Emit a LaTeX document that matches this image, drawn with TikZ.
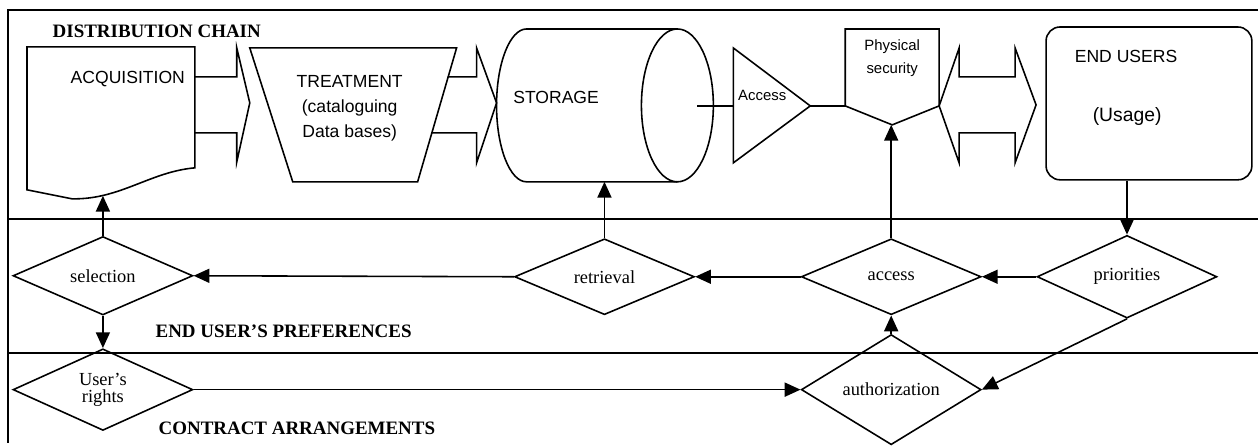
\documentclass[tikz,border=0pt]{standalone}
\usepackage{fontspec}
\setmainfont{Liberation Serif}
\setsansfont{Liberation Sans}
\usetikzlibrary{shapes.geometric, arrows.meta, positioning}

\begin{document}
\begin{tikzpicture}[
    x=0.02cm, y=0.02cm,
    line width=0.9pt,
    frame/.style={line width=1.3pt},
    choice/.style={diamond, draw, minimum width=3.6cm, minimum height=1.52cm, inner sep=0pt, align=center, font=\fontsize{10.5}{10}\selectfont},
    arrow/.style={-{Triangle[length=9pt,width=8pt]}},
    lanetitle/.style={anchor=west, inner sep=0pt, font=\bfseries\fontsize{10.8}{12}\selectfont},
    chaintext/.style={inner sep=0pt, align=center, font=\sffamily\fontsize{10}{14.2}\selectfont},
    smalltext/.style={inner sep=0pt, align=center, font=\sffamily\fontsize{8.5}{13}\selectfont}
  ]
    \path[fill=white] (0,0) rectangle (1259,-443);
    \draw[frame] (8,-443) -- (8,-10) -- (1259,-10);
    \draw[frame] (8,-219) -- (1259,-219);
    \draw[frame] (8,-353) -- (1259,-353);

    \node[lanetitle] (chaintitle) at (52,-31) {DISTRIBUTION CHAIN};
    \node[lanetitle] (preftitle) at (155,-332) {END USER'S PREFERENCES};
    \node[lanetitle] (contracttitle) at (158,-429) {CONTRACT ARRANGEMENTS};

    % distribution chain
    \draw (27,-47) -- (195,-47) -- (195,-168) .. controls (150,-172) and (120,-200) .. (72,-199) -- (27,-190) -- cycle;
    \node[chaintext, anchor=west] (acq) at (70,-79) {ACQUISITION};
    \coordinate (acqbot) at (103,-196);

    \draw (195,-77) -- (237,-77) -- (237,-48) -- (250,-103) -- (237,-162) -- (237,-133) -- (195,-133);

    \draw (250,-48) -- (457,-48) -- (418,-182) -- (293,-182) -- cycle;
    \node[chaintext] (treat) at (350,-108) {TREATMENT\\(cataloguing\\Data bases)};

    \draw (448,-77) -- (477,-77) -- (477,-48) -- (497,-103) -- (477,-163) -- (477,-133) -- (432,-133);

    \draw (678,-29) -- (527,-29) arc[start angle=90, end angle=270, x radius=30, y radius=76.5] -- (678,-182);
    \draw (678,-105.5) ellipse [x radius=36, y radius=76.5];
    \node[chaintext, anchor=west] (stor) at (513,-98) {STORAGE};
    \coordinate (storbot) at (605,-182);

    \coordinate (cylout) at (698,-106);
    \coordinate (accin) at (734,-106);
    \coordinate (accout) at (811,-106);
    \coordinate (physin) at (846,-106);
    \coordinate (physbot) at (893,-125);
    \draw (734,-48) -- (accout) -- (734,-163) -- cycle;
    \node[smalltext, anchor=west] (acctxt) at (738,-96) {Access};
    \draw (cylout) -- (accin);
    \draw (accout) -- (physin);

    \draw (846,-29) -- (940,-29) -- (940,-106) -- (physbot) -- (physin) -- cycle;
    \node[smalltext] (phys) at (893,-58) {Physical\\security};

    \draw (940,-106) -- (960,-48) -- (960,-77) -- (1016,-77) -- (1016,-48) -- (1037,-105) -- (1016,-163) -- (1016,-133) -- (960,-133) -- (960,-163) -- cycle;

    \node[draw, rounded corners=0.28cm, minimum width=4.12cm, minimum height=3.06cm, inner sep=0pt] (users) at (1150,-103.5) {};
    \node[chaintext, anchor=west] (userstxt) at (1075,-57) {END USERS};
    \node[chaintext, anchor=west, font=\sffamily\fontsize{11}{13}\selectfont] (usage) at (1093,-117) {(Usage)};

    % preferences and contract
    \node[choice] (sel) at (103,-276) {selection};
    \node[choice] (retr) at (605,-277) {retrieval};
    \node[choice] (acc) at (892,-277) {access};
    \node[choice] (prio) at (1128,-277) {priorities};
    \node[choice] (rights) at (103,-390) {User's\\rights};
    \node[choice] (auth) at (892,-390) {authorization};

    \draw[arrow] (sel.north) -- (acqbot);
    \draw[arrow] (retr.north) -- (retr.north |- storbot);
    \draw[arrow] (acc.north) -- (acc.north |- physbot);
    \draw[arrow] (prio.north |- users.south) -- (prio.north);
    \draw[arrow] (retr.west) -- (sel.east);
    \draw[arrow] (acc.west) -- (retr.east);
    \draw[arrow] (prio.west) -- (acc.east);
    \draw[arrow] (sel.south) -- (rights.north);
    \draw[arrow] (rights.east) -- (auth.west);
    \draw[arrow] (auth.north) -- (acc.south);
    \draw[arrow] (prio.south) -- (auth.east);
  \end{tikzpicture}
\end{document}
